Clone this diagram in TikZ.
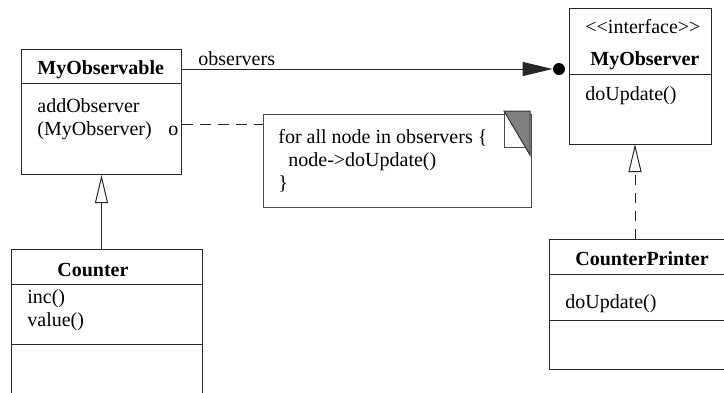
\documentclass[tikz,border=0pt]{standalone}
\usepackage{fontspec}
\setmainfont[Ligatures=NoCommon]{Liberation Serif}
\usetikzlibrary{arrows.meta}
\begin{document}
\begin{tikzpicture}[x=0.5pt,y=-0.5pt,
  box/.style={draw=black!85, line width=0.5pt, rectangle, anchor=north west, inner sep=0pt},
  sep/.style={draw=black!85, line width=0.5pt},
  txt/.style={anchor=base west, inner sep=0pt, font=\fontsize{10}{12}\selectfont},
  btxt/.style={anchor=base west, inner sep=0pt, font=\fontsize{10}{12}\selectfont\bfseries},
  conn/.style={draw=black!85, line width=0.5pt},
  dashline/.style={dash pattern=on 5.5pt off 3.5pt},
  gentip/.style={-{Triangle[open,length=14pt,width=6.5pt]}},
  assoctip/.style={-{Triangle[length=15pt,width=7pt]}}
]
\useasboundingbox (0,0) rectangle (724,392);
\clip (0,0) rectangle (724,392);
\fill[white] (0,0) rectangle (724,392);

% MyObservable
\node[box, minimum width=80pt, minimum height=62.5pt] (myobs) at (21,49) {};
\draw[sep] (myobs.west |- 0,83) -- (myobs.east |- 0,83);
\node[btxt] (t1) at (37,74) {MyObservable};
\node[txt] (t2) at (37,112) {addObserver};
\node[txt] (t3) at (37,135.5) {(MyObserver)};
\node[txt] (ocirc) at (168,135.5) {o};

% Counter
\node[box, minimum width=95.5pt, minimum height=75.5pt] (counter) at (11,249) {};
\draw[sep] (counter.west |- 0,284) -- (counter.east |- 0,284);
\draw[sep] (counter.west |- 0,344) -- (counter.east |- 0,344);
\node[btxt] (t4) at (57,276) {Counter};
\node[txt] (t5) at (27,303) {inc()};
\node[txt] (t6) at (27,326) {value()};

% MyObserver
\node[box, minimum width=71pt, minimum height=68pt] (myobr) at (569,8) {};
\draw[sep] (myobr.west |- 0,74) -- (myobr.east |- 0,74);
\node[txt] (t7) at (585,33) {\textless{}\textless{}interface\textgreater{}\textgreater{}};
\node[btxt] (t8) at (590,65) {MyObserver};
\node[txt] (t9) at (585,100) {doUpdate()};

% CounterPrinter
\node[box, minimum width=90.5pt, minimum height=65pt] (cprinter) at (549,239) {};
\draw[sep] (cprinter.west |- 0,274) -- (cprinter.east |- 0,274);
\draw[sep] (cprinter.west |- 0,320) -- (cprinter.east |- 0,320);
\node[btxt] (t10) at (575,265) {CounterPrinter};
\node[txt] (t11) at (565,308) {doUpdate()};

% Note
\node[box, draw=black!70, minimum width=134pt, minimum height=46.5pt] (note) at (263,114) {};
\draw[draw=black!70, fill=white, line width=0.5pt] (504,111) rectangle (526,147);
\draw[draw=black!80, fill=gray, line width=0.5pt] (504,111) -- (530,111) -- (530,155) -- cycle;
\node[txt] (n1) at (278,143.5) {for all node in observers \{};
\node[txt] (n2) at (288,166.5) {node->doUpdate()};
\node[txt] (n3) at (278,189.5) {\}};

% association
\node[circle, fill=black, inner sep=0pt, minimum size=6pt] (dot) at (559,69) {};
\draw[conn, assoctip] (myobs.east |- dot) -- (dot.west);
\node[txt] (lab) at (198,65) {observers};

% note link
\coordinate (oc) at (182,124);
\draw[conn, dashline] (oc) -- (note.west |- oc);

% generalization
\draw[conn, gentip] (myobs.south |- counter.north) -- (myobs.south);

% realization
\coordinate (rtop) at (635,144);
\draw[conn, dash pattern=on 5pt off 4pt, gentip] (rtop |- cprinter.north) -- (rtop);
\end{tikzpicture}
\end{document}
